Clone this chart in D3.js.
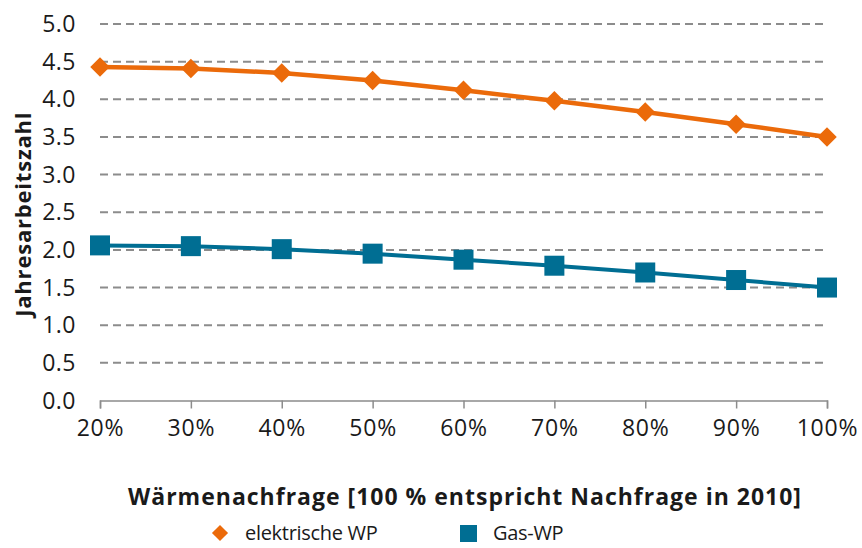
<!DOCTYPE html>
<html>
<head>
<meta charset="utf-8">
<script src="https://cdn.jsdelivr.net/npm/d3@7"></script>
<style>
  body { margin: 0; background: #fff; }
  text { font-family: "Open Sans", "Noto Sans", sans-serif; fill: #1a1a1a; }
</style>
</head>
<body>
<script>
var categories = ["20%", "30%", "40%", "50%", "60%", "70%", "80%", "90%", "100%"];
var elektrisch = [4.43, 4.41, 4.35, 4.25, 4.12, 3.98, 3.83, 3.67, 3.50];
var gas = [2.06, 2.05, 2.01, 1.95, 1.87, 1.79, 1.70, 1.60, 1.50];
var yTicks = [0, 0.5, 1, 1.5, 2, 2.5, 3, 3.5, 4, 4.5, 5];

var width = 862, height = 548;
var margin = {left: 100, right: 35, top: 24, bottom: 148};

var svg = d3.select("body").append("svg")
    .attr("width", width)
    .attr("height", height);

var x = d3.scalePoint()
    .domain(categories)
    .range([margin.left, width - margin.right]);

var y = d3.scaleLinear()
    .domain([0, 5])
    .range([height - margin.bottom + 0.5, margin.top]);

// grid
svg.append("g")
  .selectAll("line")
  .data(yTicks.filter(function(d){ return d > 0; }))
  .enter().append("line")
    .attr("x1", margin.left)
    .attr("x2", width - margin.right)
    .attr("y1", function(d){ return y(d); })
    .attr("y2", function(d){ return y(d); })
    .attr("stroke", "#8c8c8c")
    .attr("stroke-width", 2)
    .attr("stroke-dasharray", "8,5");

// y labels
svg.append("g")
  .selectAll("text")
  .data(yTicks)
  .enter().append("text")
    .attr("x", 76)
    .attr("y", function(d){ return y(d) + 8; })
    .attr("text-anchor", "end")
    .style("font-size", "23px")
    .style("letter-spacing", "0.5px")
    .text(function(d){ return d3.format(".1f")(d); });

// x axis
var xAxis = d3.axisBottom(x).tickSize(8).tickPadding(11);
var gx = svg.append("g")
    .attr("transform", "translate(0," + y(0) + ")")
    .call(xAxis);
gx.select(".domain").attr("stroke", "#8c8c8c").attr("stroke-width", 1.5);
gx.selectAll(".tick line").attr("stroke", "#8c8c8c").attr("stroke-width", 1.5);
gx.selectAll(".tick text")
    .style("font-size", "23px")
    .style("letter-spacing", "0.8px")
    .style("font-family", "'Open Sans', sans-serif")
    .attr("fill", "#1a1a1a");

var line = d3.line()
    .x(function(d, i){ return x(categories[i]); })
    .y(function(d){ return y(d); });

// elektrische WP
svg.append("path")
    .datum(elektrisch)
    .attr("d", line)
    .attr("fill", "none")
    .attr("stroke", "#eb6a0a")
    .attr("stroke-width", 4.5);

svg.append("g")
  .selectAll("path")
  .data(elektrisch)
  .enter().append("path")
    .attr("d", d3.symbol().type(d3.symbolSquare).size(190))
    .attr("transform", function(d, i){ return "translate(" + x(categories[i]) + "," + y(d) + ") rotate(45)"; })
    .attr("fill", "#eb6a0a");

// Gas-WP
svg.append("path")
    .datum(gas)
    .attr("d", line)
    .attr("fill", "none")
    .attr("stroke", "#006e93")
    .attr("stroke-width", 4);

svg.append("g")
  .selectAll("rect")
  .data(gas)
  .enter().append("rect")
    .attr("x", function(d, i){ return x(categories[i]) - 10; })
    .attr("y", function(d){ return y(d) - 10; })
    .attr("width", 20)
    .attr("height", 20)
    .attr("fill", "#006e93");

// axis titles
svg.append("text")
    .attr("transform", "translate(31," + ((y(0) + y(5)) / 2 + 2) + ") rotate(-90)")
    .attr("text-anchor", "middle")
    .style("font-size", "22px")
    .style("font-weight", "bold")
    .style("letter-spacing", "0.8px")
    .text("Jahresarbeitszahl");

svg.append("text")
    .attr("x", 465)
    .attr("y", 505)
    .attr("text-anchor", "middle")
    .style("font-size", "23px")
    .style("font-weight", "bold")
    .style("letter-spacing", "1px")
    .text("Wärmenachfrage [100 % entspricht Nachfrage in 2010]");

// legend
var legend = svg.append("g");
legend.append("path")
    .attr("d", d3.symbol().type(d3.symbolSquare).size(130))
    .attr("transform", "translate(220,533) rotate(45)")
    .attr("fill", "#eb6a0a");
legend.append("text")
    .attr("x", 245)
    .attr("y", 540)
    .style("font-size", "20px")
    .style("letter-spacing", "-0.3px")
    .text("elektrische WP");
legend.append("rect")
    .attr("x", 460).attr("y", 525)
    .attr("width", 17).attr("height", 17)
    .attr("fill", "#006e93");
legend.append("text")
    .attr("x", 493)
    .attr("y", 540)
    .style("font-size", "20px")
    .style("letter-spacing", "-0.3px")
    .text("Gas-WP");
</script>
</body>
</html>
